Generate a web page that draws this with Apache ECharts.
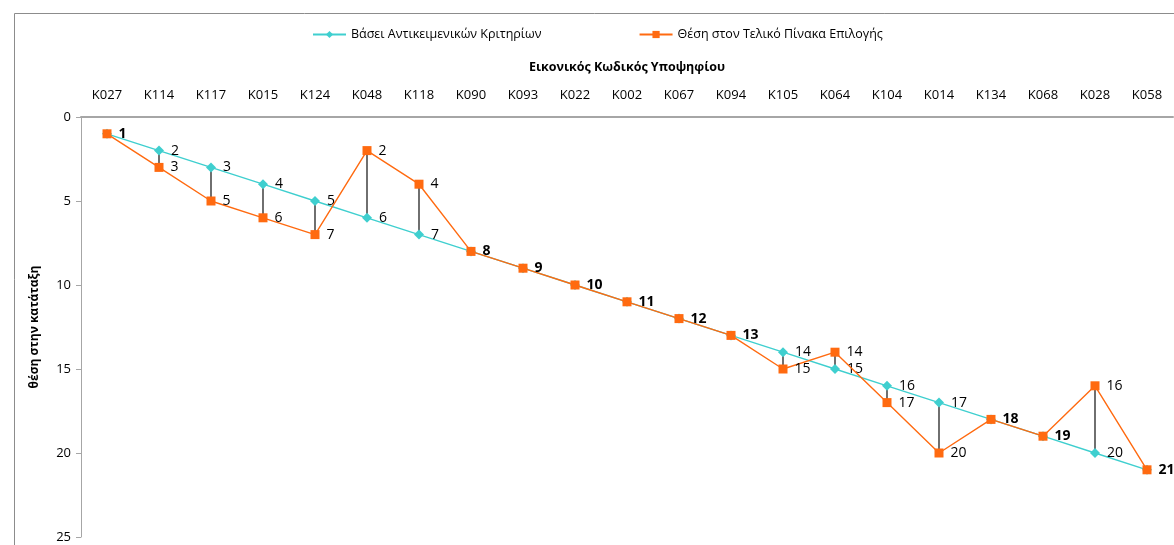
<!DOCTYPE html>
<html>
<head>
<meta charset="utf-8">
<script src="https://cdn.jsdelivr.net/npm/echarts@6/dist/echarts.min.js"></script>
<style>
html,body{margin:0;padding:0;background:#fff;}
#chart{width:1174px;height:545px;}
</style>
</head>
<body>
<div id="chart"></div>
<script>
const categories = ["K027","K114","K117","K015","K124","K048","K118","K090","K093","K022","K002","K067","K094","K105","K064","K104","K014","K134","K068","K028","K058"];
const objectiveRank = [1,2,3,4,5,6,7,8,9,10,11,12,13,14,15,16,17,18,19,20,21];
const finalRank = [1,3,5,6,7,2,4,8,9,10,11,12,13,15,14,17,20,18,19,16,21];
const yTicks = [0,5,10,15,20,25];
const seriesNames = ["Βάσει Αντικειμενικών Κριτηρίων","Θέση στον Τελικό Πίνακα Επιλογής"];

const FONT = "'Open Sans', 'Noto Sans', sans-serif";
const CYAN = "#3fcfcf";
const ORANGE = "#ff6a10";

const cyanData = objectiveRank.map((v,i)=>({
  value: v,
  label: { show: v !== finalRank[i] }
}));
const orangeData = finalRank.map((v,i)=>({
  value: v,
  label: { show: true, fontWeight: v === objectiveRank[i] ? 'bold' : 'normal' }
}));
const diffData = categories.map((c,i)=>[i, objectiveRank[i], finalRank[i]]).filter(d=>d[1]!==d[2]);

const chart = echarts.init(document.getElementById('chart'), null, {renderer:'canvas'});
chart.setOption({
  animation: false,
  backgroundColor: '#fff',
  textStyle: { fontFamily: FONT },
  graphic: [{
    type: 'rect', left: 12, top: 11, silent: true,
    shape: { width: 1200, height: 600 },
    style: { fill: 'none', stroke: '#8c8c8c', lineWidth: 1 }
  }],
  legend: {
    top: 23, left: 307,
    itemWidth: 33, itemHeight: 9, itemGap: 97,
    textStyle: { fontFamily: FONT, fontSize: 12.5, color: '#000' },
    data: seriesNames
  },
  grid: { left: 81, right: 1, top: 117, bottom: 8, containLabel: false },
  xAxis: {
    type: 'category', position: 'top', data: categories, boundaryGap: true,
    name: 'Εικονικός Κωδικός Υποψηφίου', nameLocation: 'middle', nameGap: 43,
    nameTextStyle: { fontFamily: FONT, fontSize: 12.5, fontWeight: 'bold', color: '#000' },
    axisLine: { show: true, lineStyle: { color: '#a6a6a6', width: 2 } },
    axisTick: { show: false },
    axisLabel: { margin: 15, fontFamily: FONT, fontSize: 13, color: '#000', interval: 0 },
    splitLine: { show: false }
  },
  yAxis: {
    type: 'value', inverse: true, min: yTicks[0], max: yTicks[yTicks.length-1], interval: yTicks[1]-yTicks[0],
    name: 'θέση στην κατάταξη', nameLocation: 'middle', nameGap: 40,
    nameTextStyle: { fontFamily: FONT, fontSize: 12, fontWeight: 'bold', color: '#000' },
    axisLine: { show: true, lineStyle: { color: '#a6a6a6', width: 1 } },
    axisTick: { show: true, length: 5, lineStyle: { color: '#a6a6a6' } },
    axisLabel: { margin: 10, fontFamily: FONT, fontSize: 13, color: '#000' },
    splitLine: { show: false }
  },
  series: [
    {
      name: 'diff', type: 'custom', z: 1, silent: true,
      data: diffData,
      renderItem: function(params, api){
        const p1 = api.coord([api.value(0), api.value(1)]);
        const p2 = api.coord([api.value(0), api.value(2)]);
        return { type: 'line', shape: { x1: p1[0], y1: p1[1], x2: p2[0], y2: p2[1] },
                 style: { stroke: '#222', lineWidth: 1.3 } };
      }
    },
    {
      name: seriesNames[0], type: 'line', z: 2,
      data: cyanData,
      symbol: 'diamond', symbolSize: 10, showAllSymbol: true,
      lineStyle: { color: CYAN, width: 1.4 },
      itemStyle: { color: CYAN },
      label: { position: 'right', distance: 7, fontFamily: FONT, fontSize: 14, color: '#000' }
    },
    {
      name: seriesNames[1], type: 'line', z: 3,
      data: orangeData,
      symbol: 'rect', symbolSize: 9, showAllSymbol: true,
      lineStyle: { color: ORANGE, width: 1.4 },
      itemStyle: { color: ORANGE },
      label: { position: 'right', distance: 7, fontFamily: FONT, fontSize: 14, color: '#000' }
    }
  ]
});
</script>
</body>
</html>
